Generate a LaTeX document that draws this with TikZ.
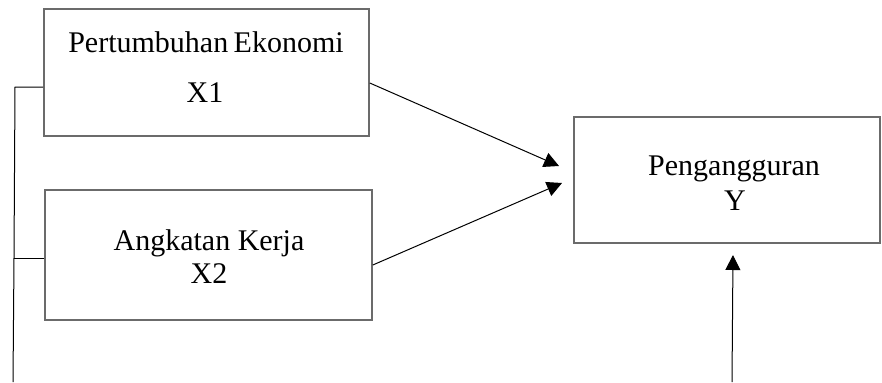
\documentclass[tikz,border=0pt]{standalone}
\usepackage{fontspec}
\setmainfont{Liberation Serif}
\usetikzlibrary{arrows.meta}
\begin{document}
\begin{tikzpicture}[x=1bp,y=-1bp,
  box/.style={draw=black!58,line width=1.6bp,rectangle,inner sep=0pt},
  lbl/.style={inner sep=0pt,anchor=base,font=\fontsize{30bp}{36bp}\selectfont},
  conn/.style={draw=black,line width=1bp},
  arr/.style={conn,-{Triangle[length=15bp,width=15bp]}}]
\useasboundingbox (0,0) rectangle (882,382);
% boxes
\node[box,minimum width=325bp,minimum height=127bp] (b1) at (206.5,72.5) {};
\node[box,minimum width=327bp,minimum height=130bp] (b2) at (208.5,255) {};
\node[box,minimum width=306bp,minimum height=126bp] (by) at (727,180) {};
% labels
\node[lbl] (t1a) at (206,52) {Pertumbuhan\hspace{-2bp} Ekonomi};
\node[lbl] (t1b) at (205,102) {X1};
\node[lbl] (t2a) at (209,250) {Angkatan Kerja};
\node[lbl] (t2b) at (209,283) {X2};
\node[lbl] (tya) at (734,175) {Pengangguran};
\node[lbl] (tyb) at (735,210) {Y};
% left bus
\coordinate (bus1) at (15,87);
\coordinate (bus2) at (14,258);
\coordinate (busend) at (13,382);
\draw[conn] (b1.west |- bus1) -- (bus1) -- (bus2) -- (busend);
\draw[conn] (b2.west |- bus2) -- (bus2);
% arrows
\coordinate (a1s) at (369,83);
\coordinate (a1e) at (559,166);
\coordinate (a2s) at (372,265);
\coordinate (a2e) at (562,183);
\coordinate (a3s) at (732,382);
\coordinate (a3e) at (733,255);
\draw[arr] (b1.east |- a1s) -- (a1e);
\draw[arr] (b2.east |- a2s) -- (a2e);
\draw[arr] (a3s) -- (a3e);
\end{tikzpicture}
\end{document}
